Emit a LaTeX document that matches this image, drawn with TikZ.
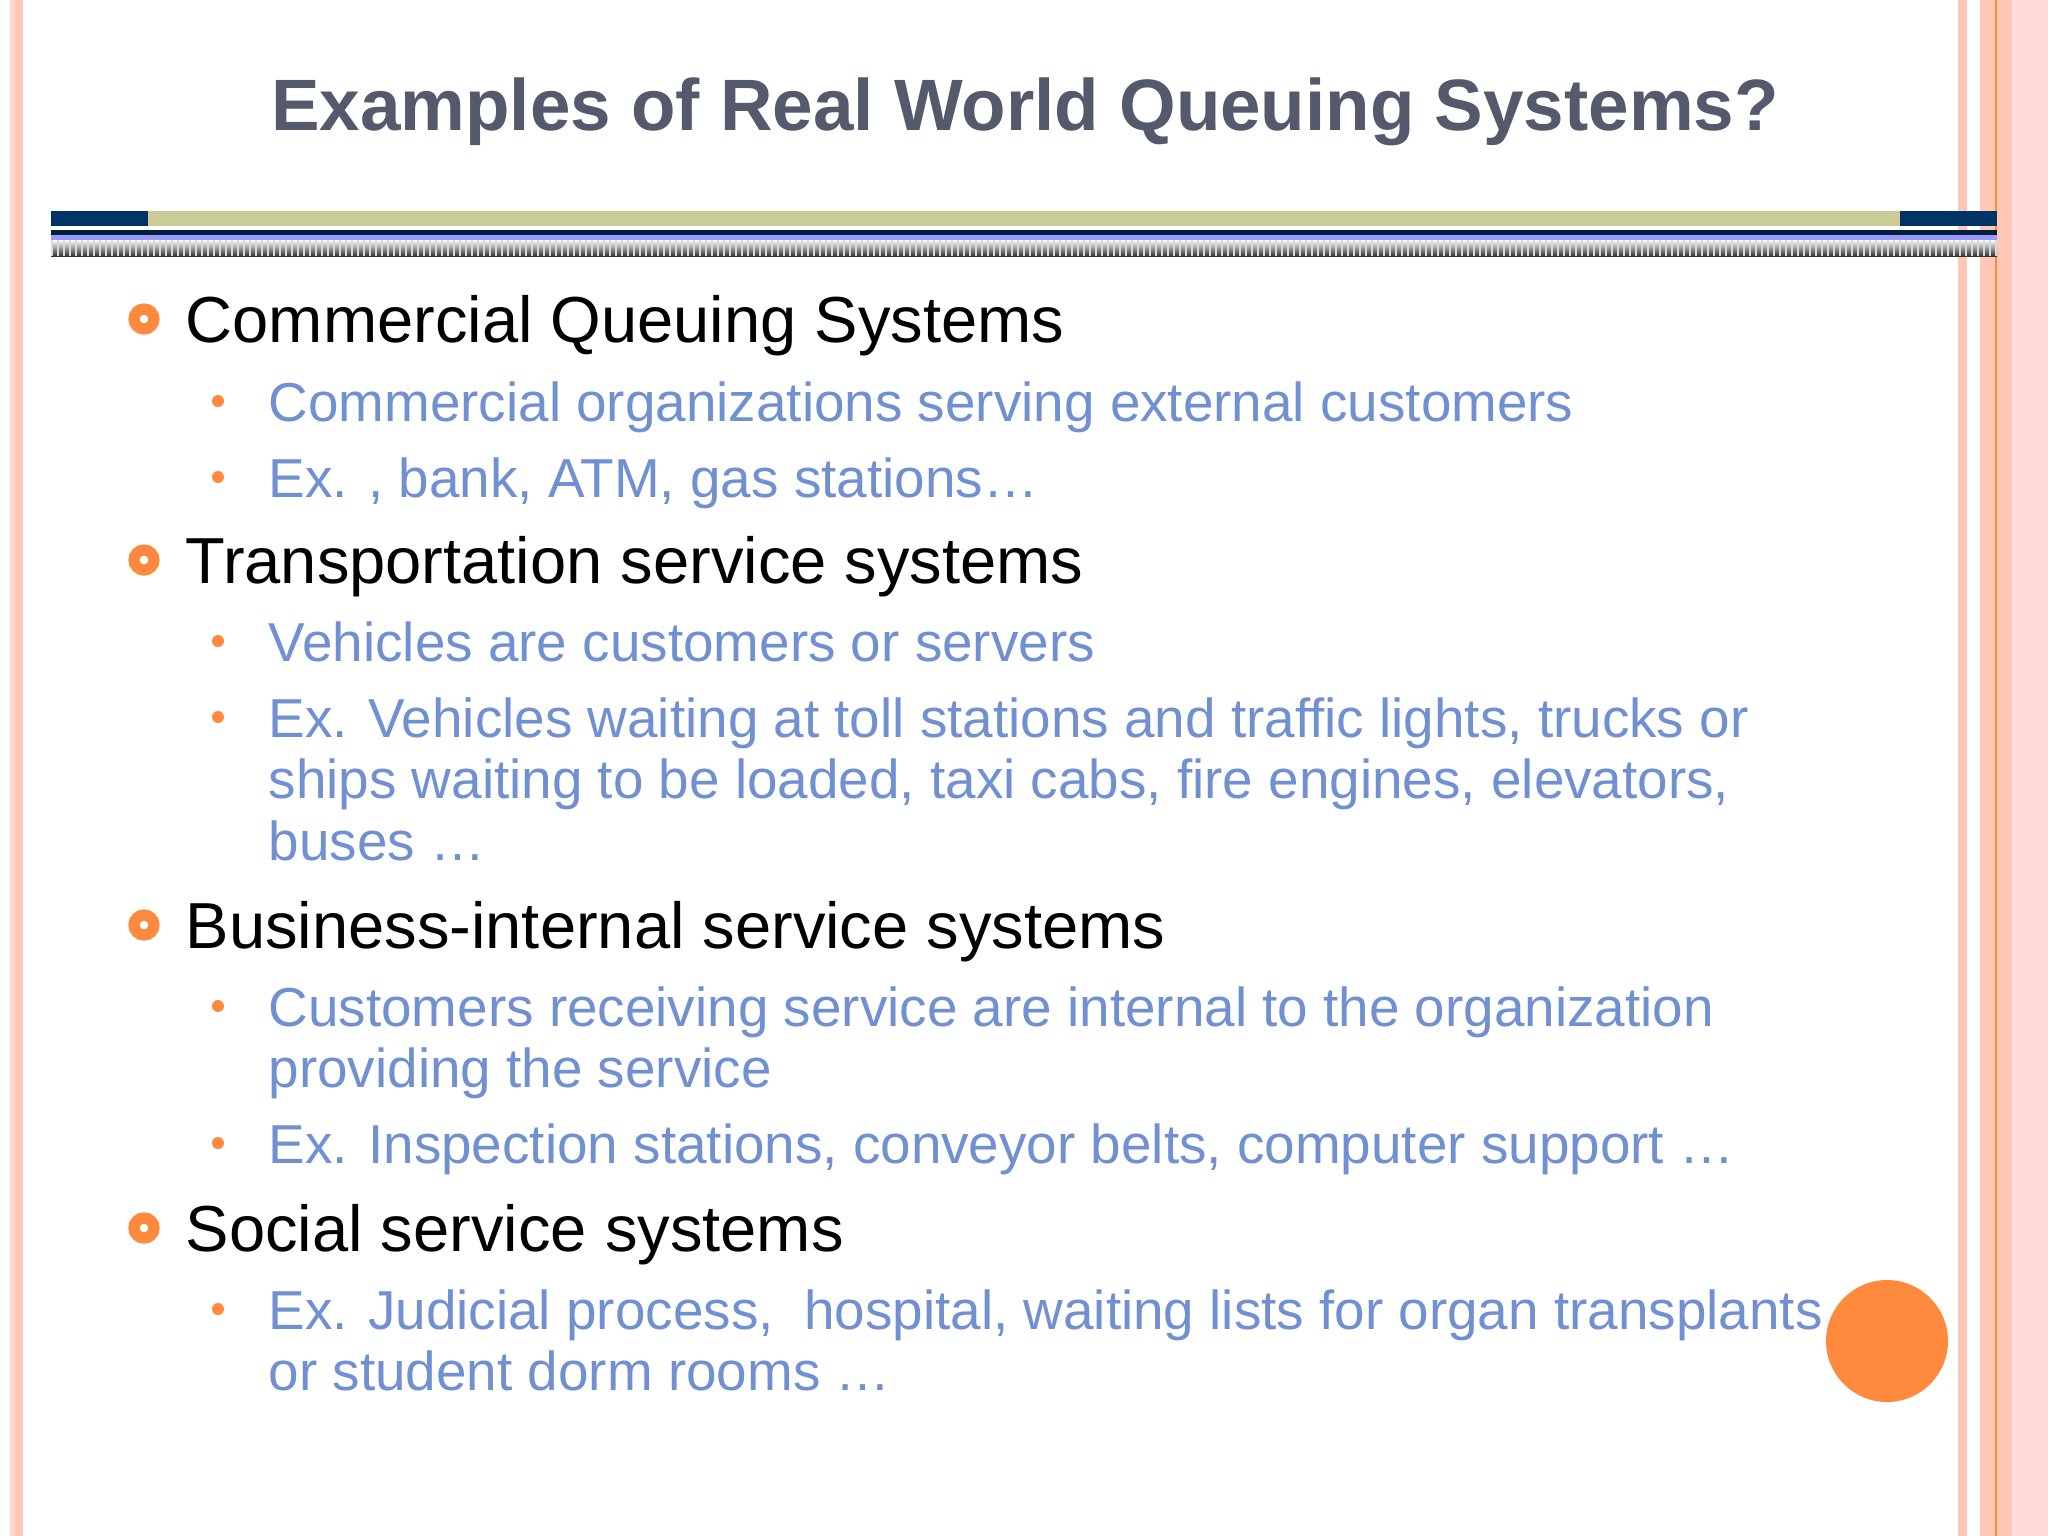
\documentclass[tikz,border=0pt]{standalone}
\usepackage{fontspec}
\setmainfont{Liberation Sans}
\definecolor{ttl}{HTML}{545A6C}
\definecolor{sub}{HTML}{7090D2}
\definecolor{org}{HTML}{FF8A3D}
\definecolor{pnk}{HTML}{FFC8B4}
\definecolor{navy}{HTML}{003366}
\definecolor{khaki}{HTML}{CCCC99}
\begin{document}
\begin{tikzpicture}[x=0.01cm,y=-0.01cm,
  lone/.style={anchor=base west,inner sep=0,font=\fontsize{18.5}{22}\selectfont,text=black},
  ltwo/.style={anchor=base west,inner sep=0,font=\fontsize{15.6}{19}\selectfont,text=sub},
  bone/.style={circle,draw=org,line width=3.2pt,minimum size=0.2cm,inner sep=0},
  btwo/.style={circle,fill=org,minimum size=0.12cm,inner sep=0}]
\useasboundingbox (0,0) rectangle (2048,1536);
\fill[white] (0,0) rectangle (2048,1536);
% borders
\fill[pnk!70] (10,0) rectangle (15,1536);
\fill[pnk] (15,0) rectangle (23,1536);
\fill[pnk] (1958,0) rectangle (1967,1536);
\fill[pnk] (1980,0) rectangle (1996,1536);
\fill[pnk] (1996,0) rectangle (2048,1536);
\fill[pnk!120!orange!90] (2012,0) rectangle (2048,1536);
\draw[org,line width=0.6pt] (1996,0) -- (1996,1536);
% title bar
\fill[navy] (51,211) rectangle (148,226);
\fill[khaki] (148,211) rectangle (1900,226);
\fill[navy] (1900,211) rectangle (1997,226);
\fill[navy!60!black] (51,230) rectangle (1997,235);
\fill[blue!40!white] (51,235) rectangle (1997,240);
\shade[top color=white,bottom color=black!80] (51,240) rectangle (1997,256);
\foreach \i in {0,...,324} {\fill[white!70!gray] (51+\i*6,240) rectangle (53+\i*6,256);}
% title
\node[anchor=base,inner sep=0,font=\fontsize{20.7}{24}\selectfont\bfseries,text=ttl] (title) at (1025,130) {Examples of Real World Queuing Systems?};
% level 1
\foreach \y/\t [count=\k] in {342/Commercial Queuing Systems,583/Transportation service systems,948/Business-internal service systems,1251/Social service systems}{
  \node[bone] (b\k) at (144,\y-23) {};
  \node[lone] (h\k) at (185,\y) {\t};
}
% level 2 bullets
\foreach \y [count=\k] in {401,477,641,717,1006,1143,1309}{
  \node[btwo] (d\k) at (218,\y) {};
}
\node[ltwo] (s1) at (268,421) {Commercial organizations serving external customers};
\node[ltwo] (s2) at (268,497) {Ex. , bank, ATM, gas stations…};
\node[ltwo] (s3) at (268,661) {Vehicles are customers or servers};
\node[ltwo] (s4) at (268,737) {Ex. Vehicles waiting at toll stations and traffic lights, trucks or};
\node[ltwo] (s4b) at (268,798) {ships waiting to be loaded, taxi cabs, fire engines, elevators,};
\node[ltwo] (s4c) at (268,860) {buses …};
\node[ltwo] (s5) at (268,1026) {Customers receiving service are internal to the organization};
\node[ltwo] (s5b) at (268,1087) {providing the service};
\node[ltwo] (s6) at (268,1163) {Ex. Inspection stations, conveyor belts, computer support …};
\node[ltwo] (s7) at (268,1329) {Ex. Judicial process,\ \ hospital, waiting lists for organ transplants};
\node[ltwo] (s7b) at (268,1390) {or student dorm rooms …};
% orange circle
\fill[org] (1887,1341) circle (61);
\end{tikzpicture}
\end{document}
